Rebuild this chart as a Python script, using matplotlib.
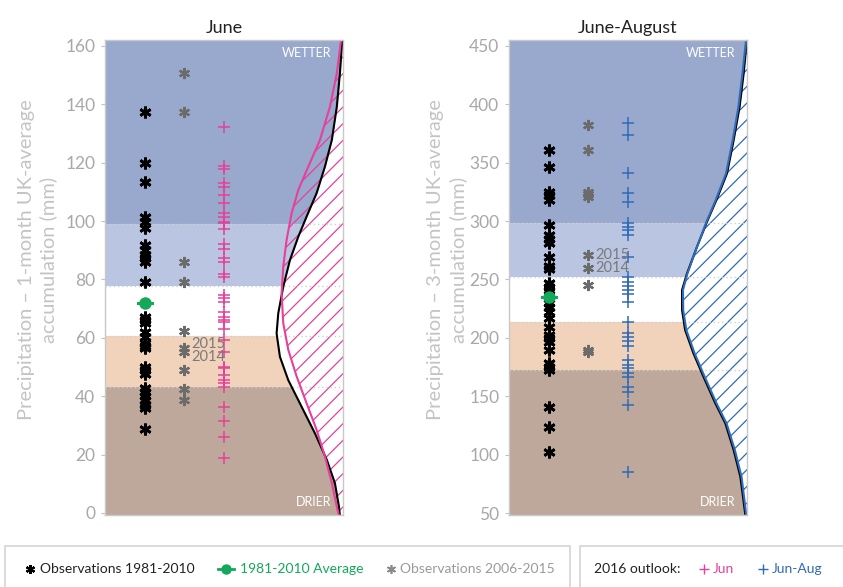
import numpy as np
import matplotlib
matplotlib.use("Agg")
import matplotlib.pyplot as plt
from matplotlib.patches import Rectangle
from matplotlib.lines import Line2D

plt.rcParams['font.family'] = ['Lato', 'DejaVu Sans']
plt.rcParams['hatch.linewidth'] = 0.9

# ---- June (1-month) ----
jun_obs_8110 = [137.4, 119.8, 113.5, 101.5, 99.8, 97.7, 91.8, 90.1, 88.4, 87.2,
                86.1, 79.0, 67.2, 66.1, 65.1, 62.1, 60.3, 58.1, 57.2, 56.5,
                50.1, 49.0, 47.6, 42.7, 41.5, 40.1, 38.7, 37.0, 36.0, 28.7]
jun_avg = 71.8
jun_obs_0615 = [150.6, 137.4, 86.1, 79.0, 62.3, 56.6, 55.2, 49.0, 42.5, 38.7]
jun_years = {2015: 56.6, 2014: 55.2}
jun_outlook = [132.3, 118.8, 117.8, 112.9, 111.7, 108.9, 106.3, 102.6, 101.5, 99.8,
               99.4, 97.2, 92.1, 90.3, 87.2, 86.1, 81.7, 80.9, 74.7, 73.5,
               72.4, 68.9, 67.2, 66.1, 65.5, 62.9, 59.2, 55.2, 50.1, 49.6,
               47.3, 45.5, 44.4, 43.3, 36.3, 31.5, 26.0, 18.9]
jun_bands = [43.3, 60.6, 77.8, 99.1]
# distribution curves: rainfall (mm) and width in from the right edge (axes fraction)
jun_clim_mm = [162, 150.6, 139.1, 127.7, 118.6, 109.5, 101.5, 94.6, 86.6, 77.5,
               68.4, 61.5, 53.5, 45.5, 36.4, 27.3, 18.2, 10.2, 2.2, -1]
jun_clim_w = [0.003, 0.013, 0.026, 0.047, 0.076, 0.111, 0.153, 0.188, 0.223, 0.251,
              0.272, 0.279, 0.265, 0.230, 0.174, 0.118, 0.068, 0.034, 0.017, 0.013]
jun_fc_mm = [162, 150.6, 139.1, 127.7, 118.6, 110.6, 102.6, 93.5, 84.4, 75.3,
             65.0, 55.9, 46.8, 37.6, 28.5, 19.4, 10.2, 2.2, -1]
jun_fc_w = [0.008, 0.026, 0.055, 0.097, 0.146, 0.188, 0.216, 0.237, 0.251, 0.258,
            0.251, 0.230, 0.195, 0.153, 0.111, 0.076, 0.047, 0.026, 0.017]

# ---- June-August (3-month) ----
jja_obs_8110 = [360.8, 346.0, 325.1, 322.3, 318.0, 296.6, 288.0, 284.3, 280.9, 269.4,
                261.5, 258.7, 246.7, 243.8, 240.9, 229.5, 226.6, 222.3, 216.7, 209.5,
                202.4, 199.6, 196.7, 189.6, 178.2, 175.3, 172.4, 141.0, 123.9, 102.5]
jja_avg = 234.7
jja_obs_0615 = [382.2, 360.8, 325.1, 323.1, 321.0, 270.9, 259.5, 245.2, 189.6, 188.2]
jja_years = {2015: 270.9, 2014: 259.5}
jja_outlook = [383.6, 373.6, 341.4, 323.7, 316.5, 298.0, 295.1, 292.3, 288.0, 269.4,
               252.3, 248.0, 244.3, 240.9, 237.5, 230.9, 213.8, 203.9, 200.9, 197.5,
               193.0, 181.0, 176.7, 173.9, 169.6, 166.7, 157.6, 153.8, 142.5, 85.4]
jja_bands = [172.2, 213.8, 252.0, 298.0]
jja_clim_mm = [455, 426.5, 397.9, 369.3, 340.8, 319.2, 299.4, 278.0, 255.2, 240.9,
               223.8, 206.7, 186.7, 166.7, 143.9, 126.8, 103.9, 81.1, 48.3]
jja_clim_w = [0.0, 0.014, 0.031, 0.056, 0.084, 0.126, 0.168, 0.210, 0.252, 0.273,
              0.273, 0.260, 0.225, 0.183, 0.133, 0.091, 0.056, 0.028, 0.007]
jja_fc_mm = [455, 426.5, 397.9, 369.3, 340.8, 319.2, 299.4, 278.0, 255.2, 240.9,
             223.8, 206.7, 186.7, 166.7, 143.9, 126.8, 103.9, 81.1, 48.3]
jja_fc_w = [0.004, 0.019, 0.036, 0.060, 0.088, 0.129, 0.170, 0.210, 0.250, 0.269,
            0.268, 0.255, 0.220, 0.178, 0.128, 0.086, 0.051, 0.023, 0.003]

band_cols = ['#bea89b', '#f0d3ba', '#ffffff', '#bac5e1', '#99a8cd']
pink = '#e5409a'
blue = '#2f6bb8'
green = '#13a85a'
grey_obs = '#6b6b6b'
asterisk = (6, 2, 0)
W, H = 843, 587


def panel(ax, ylim, bands, obs, avg, obs10, years, year_offsets, outlook, clim_mm,
          clim_w, fc_mm, fc_w, fc_col, title, ylabel, ticks, label_x):
    ax.set_xlim(0, 1)
    ax.set_ylim(*ylim)
    edges = [ylim[0]] + bands + [ylim[1]]
    for i in range(5):
        ax.axhspan(edges[i], edges[i + 1], color=band_cols[i], lw=0, zorder=0)
    # white area to the right of the climatology curve
    cx = 1 - np.array(clim_w)
    ax.fill_betweenx(clim_mm, cx, 1, color='white', lw=0, zorder=1)
    fx = 1 - np.array(fc_w)
    ax.fill_betweenx(fc_mm, fx, 1, facecolor='none', edgecolor=fc_col,
                     hatch='//', lw=0, zorder=2)
    for b in bands:
        ax.axhline(b, color='#d0d0d0', lw=1, ls=(0, (1, 2)), zorder=2)
    ax.plot(cx, clim_mm, color='black', lw=1.5, zorder=3)
    ax.plot(fx, fc_mm, color=fc_col, lw=1.5, zorder=4)

    ax.plot([0.168] * len(obs), obs, ls='none', marker=asterisk, ms=8.5, mew=2.0,
            color='black', zorder=5)
    ax.plot([0.14, 0.196], [avg, avg], color=green, lw=2.2, zorder=6)
    ax.plot([0.168], [avg], marker='o', ms=8, color=green, zorder=6)
    ax.plot([0.333] * len(obs10), obs10, ls='none', marker=asterisk, ms=8, mew=1.6,
            color=grey_obs, zorder=5)
    for yr, off in zip((2015, 2014), year_offsets):
        ax.annotate(str(yr), (0.333, years[yr]), xytext=(5, off),
                    textcoords='offset points', ha='left', va='center',
                    fontsize=10.5, color='#7a7a7a', zorder=7)
    ax.plot([0.5] * len(outlook), outlook, ls='none', marker='+', ms=9, mew=1.1,
            color=fc_col, zorder=5)

    ax.text(0.95, 0.985, 'WETTER', transform=ax.transAxes, ha='right', va='top',
            color='white', fontsize=9, zorder=8)
    ax.text(0.95, 0.015, 'DRIER', transform=ax.transAxes, ha='right', va='bottom',
            color='white', fontsize=9, zorder=8)

    ax.set_title(title, fontsize=13, pad=5, color='#222222')
    ax.set_xticks([])
    ax.set_yticks(ticks)
    ax.tick_params(axis='y', colors='#c0c0c0', labelcolor='#a8a8a8', labelsize=12.5,
                   length=3, width=0.8, direction='out', pad=4)
    ax.set_ylabel(ylabel, color='#c4c4c4', fontsize=14.5, linespacing=1.3)
    ax.yaxis.set_label_coords(label_x, 0.537)
    for s in ax.spines.values():
        s.set_color('#c8c8c8')
        s.set_linewidth(1.0)
        s.set_zorder(9)


fig = plt.figure(figsize=(W / 100, H / 100), dpi=100)
ax1 = fig.add_axes([105 / W, 1 - 515 / H, 238 / W, 475 / H])
ax2 = fig.add_axes([509 / W, 1 - 515 / H, 238 / W, 475 / H])

panel(ax1, (-0.7, 162), jun_bands, jun_obs_8110, jun_avg, jun_obs_0615, jun_years,
      (2.5, -4), jun_outlook, jun_clim_mm, jun_clim_w, jun_fc_mm, jun_fc_w, pink,
      'June', 'Precipitation \u2013 1-month UK-average\naccumulation (mm)',
      np.arange(0, 161, 20), -0.20)
panel(ax2, (48.3, 455), jja_bands, jja_obs_8110, jja_avg, jja_obs_0615, jja_years,
      (0, 0), jja_outlook, jja_clim_mm, jja_clim_w, jja_fc_mm, jja_fc_w, blue,
      'June-August', 'Precipitation \u2013 3-month UK-average\naccumulation (mm)',
      np.arange(50, 451, 50), -0.177)

# legend boxes along the bottom
for x0, x1 in ((5, 570), (580, 845)):
    fig.add_artist(Rectangle((x0 / W, 1 - 600 / H), (x1 - x0) / W, 54 / H,
                             transform=fig.transFigure, facecolor='white',
                             edgecolor='#d4d4d4', lw=1.2, clip_on=False))

ly = 1 - 569 / H


def legend_marker(px, **kw):
    fig.add_artist(Line2D([px / W], [ly], transform=fig.transFigure, ls='none', **kw))


def legend_text(px, s, col):
    fig.text(px / W, ly, s, ha='left', va='center', fontsize=10, color=col)


legend_marker(30, marker=asterisk, ms=6.5, mew=1.6, color='black')
legend_text(40, 'Observations 1981-2010', '#222222')
fig.add_artist(Line2D([218 / W, 234 / W], [ly, ly], transform=fig.transFigure,
                      color=green, lw=2))
legend_marker(226, marker='o', ms=6.5, color=green)
legend_text(240, '1981-2010 Average', green)
legend_marker(391, marker=asterisk, ms=6.5, mew=1.2, color='#8a8a8a')
legend_text(400, 'Observations 2006-2015', '#9a9a9a')
legend_text(594, '2016 outlook:', '#222222')
legend_marker(704, marker='+', ms=7, mew=1.0, color=pink)
legend_text(713, 'Jun', pink)
legend_marker(763, marker='+', ms=7, mew=1.0, color=blue)
legend_text(772, 'Jun-Aug', blue)

fig.savefig('out.png', dpi=100)
